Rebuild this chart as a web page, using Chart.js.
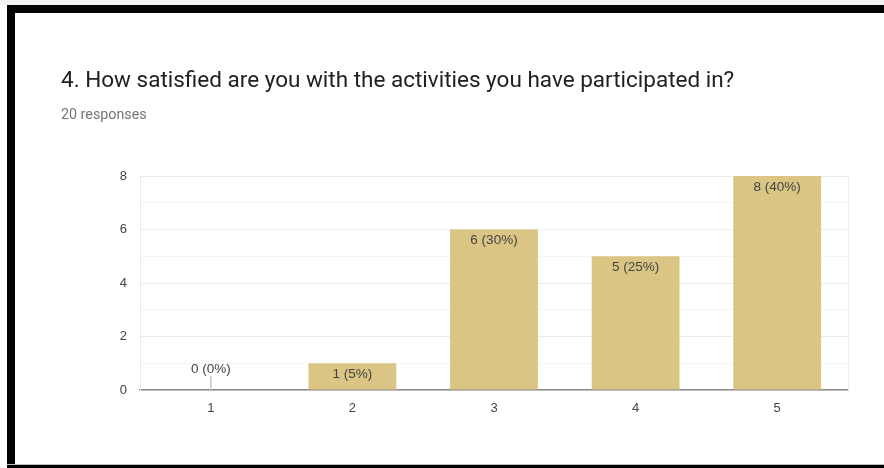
<!DOCTYPE html>
<html>
<head>
<meta charset="utf-8">
<script src="https://cdn.jsdelivr.net/npm/chart.js@4"></script>
<style>
  html, body { margin: 0; padding: 0; background: #ffffff; width: 884px; height: 468px; overflow: hidden; }
  #wrap { position: relative; width: 884px; height: 468px; }
  #chart { position: absolute; left: 0; top: 0; }
  .strip { position: absolute; left: 0; top: 0; width: 884px; height: 5px; background: #f2f2f2; }
  .bt { position: absolute; left: 7px; top: 5px; width: 877px; height: 8px; background: #000; }
  .bl { position: absolute; left: 7px; top: 5px; width: 8px; height: 463px; background: #000; }
  .bbg { position: absolute; left: 7px; top: 464px; width: 877px; height: 1px; background: #bdbdbd; }
  .bb { position: absolute; left: 7px; top: 465px; width: 877px; height: 3px; background: #000; }
  .title { position: absolute; left: 61px; top: 67px; font-family: Roboto, sans-serif; font-size: 22.5px; line-height: 24px; color: #202124; white-space: nowrap; }
  .sub { position: absolute; left: 61px; top: 107px; font-family: Roboto, sans-serif; font-size: 14.3px; line-height: 14px; color: #757575; white-space: nowrap; }
</style>
</head>
<body>
<div id="wrap">
  <canvas id="chart" width="884" height="468"></canvas>
  <div class="strip"></div>
  <div class="bt"></div>
  <div class="bl"></div>
  <div class="bbg"></div>
  <div class="bb"></div>
  <div class="title">4. How satisfied are you with the activities you have participated in?</div>
  <div class="sub">20 responses</div>
</div>
<script>
const categories = ['1', '2', '3', '4', '5'];
const counts = [0, 1, 6, 5, 8];
const yTickLabels = ['0', '2', '4', '6', '8'];
const totalResponses = 20;

const barColor = '#dac584';
const labelFont = '13.5px "Liberation Sans", Arial, sans-serif';

const frame = {
  id: 'frame',
  beforeDatasetsDraw(chart) {
    const a = chart.chartArea, c = chart.ctx;
    c.save();
    c.strokeStyle = '#ececec';
    c.lineWidth = 1;
    c.beginPath();
    c.moveTo(Math.round(a.right) + 0.5, a.top);
    c.lineTo(Math.round(a.right) + 0.5, a.bottom);
    c.stroke();
    c.restore();
  }
};

const valueLabels = {
  id: 'valueLabels',
  afterDatasetsDraw(chart) {
    const c = chart.ctx;
    const meta = chart.getDatasetMeta(0);
    c.save();
    c.font = labelFont;
    c.fillStyle = '#444444';
    c.textAlign = 'center';
    c.textBaseline = 'middle';
    meta.data.forEach((bar, i) => {
      const v = counts[i];
      const pct = Math.round(v / totalResponses * 100);
      const text = v + ' (' + pct + '%)';
      if (v > 0) {
        c.fillText(text, bar.x, bar.y + 11);
      } else {
        c.strokeStyle = '#c4c4c4';
        c.lineWidth = 1.5;
        c.beginPath();
        c.moveTo(bar.x, bar.y);
        c.lineTo(bar.x, bar.y - 14);
        c.stroke();
        c.fillText(text, bar.x, bar.y - 21);
      }
    });
    c.restore();
  }
};

new Chart(document.getElementById('chart'), {
  type: 'bar',
  data: {
    labels: categories,
    datasets: [{
      data: counts,
      backgroundColor: barColor,
      borderWidth: 0,
      barPercentage: 0.62,
      categoryPercentage: 1.0
    }]
  },
  options: {
    responsive: false,
    animation: false,
    events: [],
    layout: { padding: { left: 100, right: 36, top: 176, bottom: 0 } },
    plugins: { legend: { display: false }, tooltip: { enabled: false }, title: { display: false } },
    scales: {
      x: {
        offset: true,
        grid: { display: false },
        border: { display: true, color: '#8c8c8c', width: 1.5 },
        ticks: { color: '#444444', font: { family: '"Liberation Sans", Arial, sans-serif', size: 13 }, padding: 3 },
        afterFit(s) { s.height = 78; }
      },
      y: {
        min: 0,
        max: 8,
        grid: {
          drawTicks: false,
          color: (ctx) => (ctx.tick && ctx.tick.value % 2 === 0) ? '#ebebeb' : '#f5f5f5',
          lineWidth: 1
        },
        border: { display: true, color: '#ebebeb', width: 1 },
        ticks: {
          stepSize: 1,
          padding: 13,
          color: '#444444',
          font: { family: '"Liberation Sans", Arial, sans-serif', size: 13 },
          callback(v) { return yTickLabels.includes(String(v)) ? String(v) : ''; }
        },
        afterFit(s) { s.width = 40; }
      }
    }
  },
  plugins: [frame, valueLabels]
});
</script>
</body>
</html>
